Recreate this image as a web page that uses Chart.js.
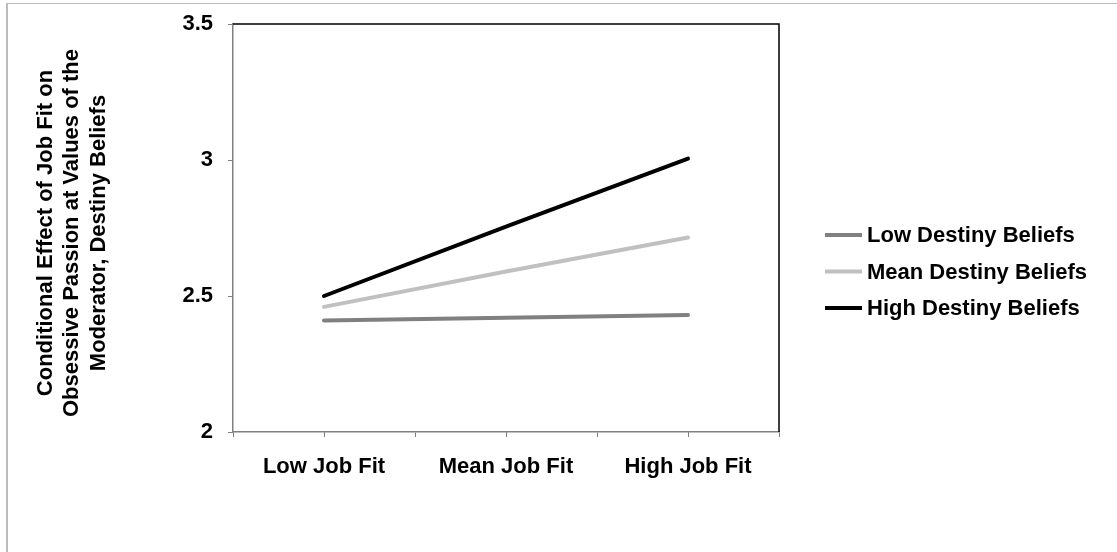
<!DOCTYPE html>
<html>
<head>
<meta charset="utf-8">
<script src="https://cdn.jsdelivr.net/npm/chart.js@4/dist/chart.umd.min.js"></script>
<style>
  html, body { margin: 0; padding: 0; background: #fff; }
  #wrap { position: absolute; left: 0; top: 0; width: 1117px; height: 552px; }
  #frame { position: absolute; left: 6px; top: 3px; right: -5px; bottom: -5px; border-top: 1px solid #bcbcbc; border-left: 2px solid #bcbcbc; }
  canvas { position: absolute; left: 0; top: 0; }
</style>
</head>
<body>
<div id="wrap">
  <div id="frame"></div>
  <canvas id="c" width="1117" height="552"></canvas>
</div>
<script>
const categories = ["Low Job Fit", "Mean Job Fit", "High Job Fit"];
const seriesNames = ["Low Destiny Beliefs", "Mean Destiny Beliefs", "High Destiny Beliefs"];
const lowDestiny = [2.41, 2.42, 2.43];
const meanDestiny = [2.46, 2.59, 2.715];
const highDestiny = [2.50, 2.755, 3.005];
const yTicks = [2, 2.5, 3, 3.5];
const yTickLabels = ["2", "2.5", "3", "3.5"];
const yTitleLines = ["Conditional Effect of Job Fit on", "Obsessive Passion at Values of the", "Moderator, Destiny Beliefs"];

const FONT = "Liberation Sans, Arial, sans-serif";
const FS = 22;

const extras = {
  id: 'extras',
  afterDraw(chart) {
    const ctx = chart.ctx;
    const a = chart.chartArea;
    const xs = chart.scales.x;
    ctx.save();
    ctx.strokeStyle = '#000';
    ctx.lineWidth = 1.5;
    ctx.beginPath();
    ctx.moveTo(a.left, a.top);
    ctx.lineTo(a.right, a.top);
    ctx.lineTo(a.right, a.bottom);
    ctx.stroke();
    ctx.strokeStyle = '#808080';
    ctx.lineWidth = 1;
    for (let i = 0; i < categories.length; i++) {
      const x = Math.round(xs.getPixelForValue(i)) + 0.5;
      ctx.beginPath();
      ctx.moveTo(x, a.bottom);
      ctx.lineTo(x, a.bottom + 5);
      ctx.stroke();
    }
    ctx.font = "bold " + FS + "px " + FONT;
    ctx.textBaseline = 'middle';
    ctx.textAlign = 'left';
    const legX = a.right + 46;
    const legY = 235;
    const step = 36.5;
    chart.data.datasets.forEach((ds, i) => {
      const y = legY + i * step;
      ctx.strokeStyle = ds.borderColor;
      ctx.lineWidth = 4;
      ctx.lineCap = 'butt';
      ctx.beginPath();
      ctx.moveTo(legX, y);
      ctx.lineTo(legX + 37, y);
      ctx.stroke();
      ctx.fillStyle = '#000';
      ctx.fillText(ds.label, legX + 42, y + 1);
    });
    ctx.translate(72, 233);
    ctx.rotate(-Math.PI / 2);
    ctx.textAlign = 'center';
    ctx.fillStyle = '#000';
    yTitleLines.forEach((t, i) => {
      ctx.fillText(t, 0, (i - 1) * 26.5);
    });
    ctx.restore();
  }
};

new Chart(document.getElementById('c'), {
  type: 'line',
  data: {
    labels: categories,
    datasets: [
      { label: seriesNames[0], data: lowDestiny, borderColor: '#808080' },
      { label: seriesNames[1], data: meanDestiny, borderColor: '#c0c0c0' },
      { label: seriesNames[2], data: highDestiny, borderColor: '#000000' }
    ].map(d => Object.assign(d, { borderWidth: 4, pointRadius: 0, tension: 0, fill: false, borderCapStyle: 'round' }))
  },
  options: {
    responsive: false,
    devicePixelRatio: 1,
    animation: false,
    layout: { padding: { top: 24, right: 338, left: 0, bottom: 0 } },
    plugins: { legend: { display: false }, tooltip: { enabled: false } },
    scales: {
      x: {
        type: 'category',
        offset: true,
        grid: { offset: true, drawOnChartArea: false, color: '#808080', tickLength: 5 },
        border: { color: '#808080', width: 1.5 },
        ticks: { color: '#000', font: { family: FONT, size: FS, weight: 'bold' }, padding: 17, maxRotation: 0 },
        afterFit(s) { s.height = 120; s.paddingLeft = 0; s.paddingRight = 0; }
      },
      y: {
        min: 2, max: 3.5,
        afterBuildTicks(s) { s.ticks = yTicks.map(v => ({ value: v })); },
        grid: { drawOnChartArea: false, color: '#808080', tickLength: 5 },
        border: { color: '#808080', width: 1.5 },
        ticks: {
          color: '#000', font: { family: FONT, size: FS, weight: 'bold' }, padding: 15,
          callback(v) { const i = yTicks.indexOf(v); return i >= 0 ? yTickLabels[i] : ''; }
        },
        afterFit(s) { s.width = 233; s.paddingTop = 0; s.paddingBottom = 0; }
      }
    }
  },
  plugins: [extras]
});
</script>
</body>
</html>
